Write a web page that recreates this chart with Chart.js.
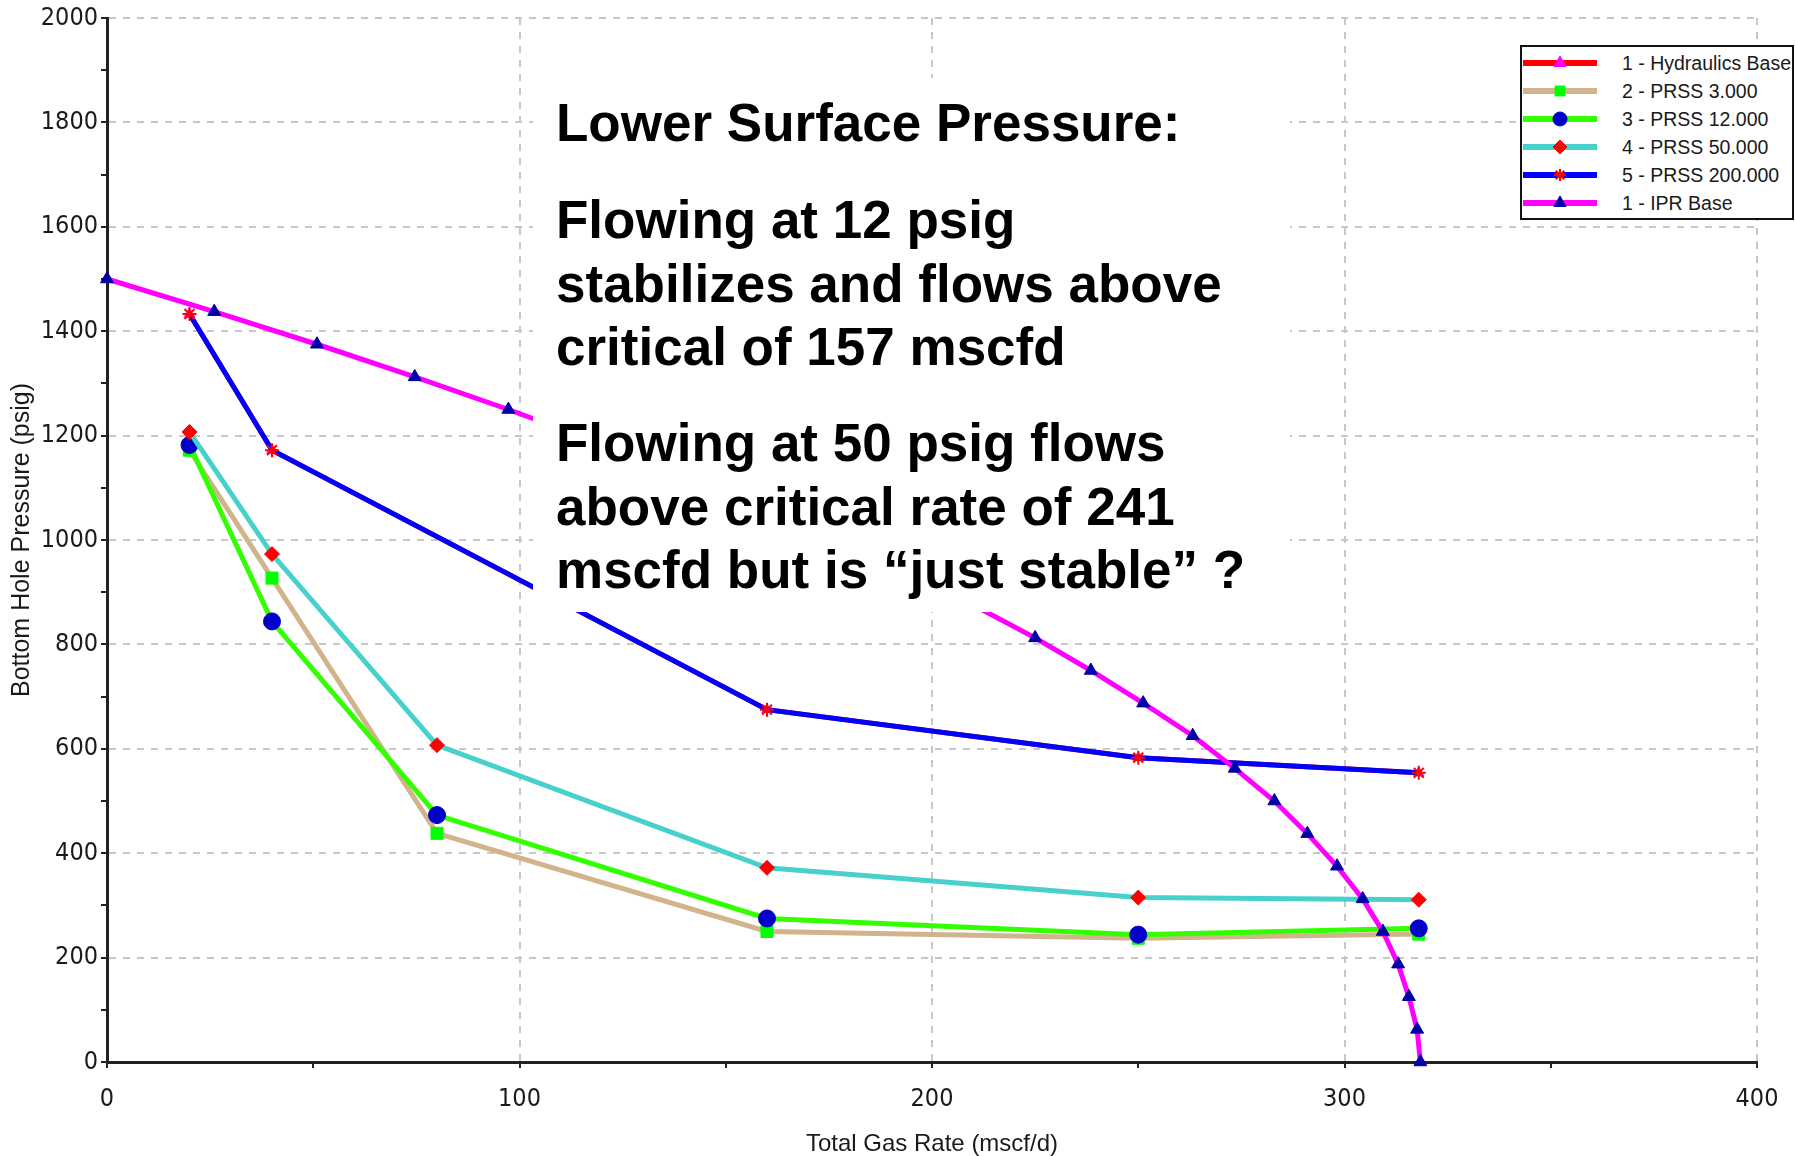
<!DOCTYPE html>
<html>
<head>
<meta charset="utf-8">
<title>Bottom Hole Pressure vs Total Gas Rate</title>
<script src="https://cdn.jsdelivr.net/npm/chart.js@4.4.1/dist/chart.umd.min.js"></script>
<style>
  body { margin: 0; background: #fff; }
  #wrap { position: relative; width: 1795px; height: 1156px; overflow: hidden; }
  #notes {
    position: absolute; left: 533px; top: 78px; width: 757px; height: 534px; background: #fff;
    font-family: "Liberation Sans", Arial, sans-serif; font-weight: bold; font-size: 53px;
    line-height: 63.5px; color: #000;
  }
  #notes p { position: absolute; left: 23px; margin: 0; white-space: nowrap; }
  #legend {
    position: absolute; left: 1520px; top: 45px; width: 270px; height: 171px;
    border: 2px solid #111; background: #fff;
    font-family: "Liberation Sans", Arial, sans-serif; font-size: 19.5px; color: #1a1a1a;
  }
  .row { position: absolute; left: 0; width: 270px; height: 28px; }
  .row canvas { position: absolute; left: 0; top: 0; }
  .row span { position: absolute; left: 100px; top: 0; line-height: 28px; white-space: nowrap; }
</style>
</head>
<body>
<div id="wrap">
  <canvas id="ipr" width="1795" height="1156"></canvas>
  <div id="notes">
    <p style="top:13px">Lower Surface Pressure:</p>
    <p style="top:110px">Flowing at 12 psig<br>stabilizes and flows above<br>critical of 157 mscfd</p>
    <p style="top:333px">Flowing at 50 psig flows<br>above critical rate of 241<br>mscfd but is “just stable” ?</p>
  </div>
  <div id="legend"></div>
</div>
<script>
// Inflow performance curve (rate mscf/d, flowing bottom hole pressure psig)
const iprRate = [0, 26.0, 50.9, 74.6, 97.3, 118.8, 139.3, 158.6, 176.9, 194.0, 210.1, 225.0, 238.5,
                 251.2, 263.2, 273.4, 283.0, 291.0, 298.2, 304.4, 309.3, 313.0, 315.6, 317.6, 318.4];
const iprPwf = [1500, 1437.5, 1375, 1312.5, 1250, 1187.5, 1125, 1062.5, 1000, 937.5, 875, 812.5, 750,
                687.5, 625, 562.5, 500, 437.5, 375, 312.5, 250, 187.5, 125, 62.5, 0];

// Tubing curves at each surface pressure
const rates = [20, 40, 80, 160, 250, 318];
const rates200 = [20, 40, 160, 250, 318];
const bhpHydraulics = [1433, 1172, 675, 583, 554];
const bhpPrss3 = [1172, 927, 438, 250, 237, 245];
const bhpPrss12 = [1182, 844, 473, 275, 244, 256];
const bhpPrss50 = [1207, 973, 607, 372, 315, 311];
const bhpPrss200 = [1433, 1172, 675, 583, 554];

const xTicks = [0, 100, 200, 300, 400];
const yTicks = [0, 200, 400, 600, 800, 1000, 1200, 1400, 1600, 1800, 2000];

const tickFont = '"Liberation Sans Narrow", "DejaVu Sans Condensed", "Liberation Sans", sans-serif';
const titleFont = '"Liberation Sans", Arial, sans-serif';

function pts(xs, ys) {
    return xs.map((x, i) => ({ x: x, y: ys[i] }));
}

function series(label, xs, ys, line, style, radius, fill, stroke, bw, order) {
    return {
        label: label,
        data: pts(xs, ys),
        borderColor: line,
        borderWidth: 5,
        pointStyle: style,
        pointRadius: radius,
        pointBackgroundColor: fill,
        pointBorderColor: stroke,
        pointBorderWidth: bw,
        tension: 0,
        clip: false,
        order: order
    };
}

const datasets = [
    series('1 - Hydraulics Base', rates200, bhpHydraulics, '#ff0000', 'triangle', 6, '#ff00ff', '#ff00ff', 1, 5),
    series('2 - PRSS 3.000', rates, bhpPrss3, '#d2b48c', 'rect', 8.5, '#00ff00', '#00ff00', 1, 4),
    series('3 - PRSS 12.000', rates, bhpPrss12, '#33ff00', 'circle', 8.5, '#0000c8', '#0000c8', 1, 3),
    series('4 - PRSS 50.000', rates, bhpPrss50, '#48d1cc', 'rectRot', 7.5, '#ff0000', '#ff0000', 1, 2),
    series('5 - PRSS 200.000', rates200, bhpPrss200, '#0000ff', 'star', 7, '#ff0000', '#ff0000', 2, 1),
    series('1 - IPR Base', iprRate, iprPwf, '#ff00ff', 'triangle', 7.5, '#0000a8', '#0000a8', 1, 0)
];

const gridDash = [7, 7];

new Chart(document.getElementById('ipr').getContext('2d'), {
    type: 'line',
    data: { datasets: datasets },
    options: {
        responsive: false,
        animation: false,
        layout: { padding: { top: 17, right: 38, left: 0, bottom: 0 } },
        plugins: { legend: { display: false }, tooltip: { enabled: false } },
        scales: {
            x: {
                type: 'linear', min: 0, max: 400,
                afterFit: s => { s.height = 94; },
                ticks: {
                    stepSize: 50, autoSkip: false, maxRotation: 0, padding: 16,
                    color: '#1a1a1a', font: { family: tickFont, size: 25 },
                    callback: v => xTicks.includes(v) ? String(v) : ''
                },
                grid: {
                    color: c => xTicks.includes(c.tick.value) ? '#c8c8c8' : 'rgba(0,0,0,0)',
                    lineWidth: 2, tickColor: '#222', tickLength: 6, tickWidth: 2
                },
                border: { color: '#222', width: 3, dash: gridDash },
                title: {
                    display: true, text: 'Total Gas Rate (mscf/d)', color: '#1a1a1a',
                    font: { family: titleFont, size: 24, lineHeight: 1 }, padding: { top: 0, bottom: 0 }
                }
            },
            y: {
                type: 'linear', min: 0, max: 2000,
                afterFit: s => { s.width = 107; },
                ticks: {
                    stepSize: 100, autoSkip: false, padding: 3,
                    color: '#1a1a1a', font: { family: tickFont, size: 25 },
                    callback: v => yTicks.includes(v) ? String(v) : ''
                },
                grid: {
                    color: c => yTicks.includes(c.tick.value) ? '#c8c8c8' : 'rgba(0,0,0,0)',
                    lineWidth: 2, tickColor: '#222', tickLength: 6, tickWidth: 2
                },
                border: { color: '#222', width: 3, dash: gridDash },
                title: {
                    display: true, text: 'Bottom Hole Pressure (psig)', color: '#1a1a1a',
                    font: { family: titleFont, size: 25 }, padding: { top: 7, bottom: 0 }
                }
            }
        }
    }
});

// Legend box: line sample with marker, then the label
const legend = document.getElementById('legend');
datasets.forEach((ds, i) => {
    const row = document.createElement('div');
    row.className = 'row';
    row.style.top = (2 + i * 28) + 'px';
    const cv = document.createElement('canvas');
    cv.width = 78;
    cv.height = 28;
    const c = cv.getContext('2d');
    c.strokeStyle = ds.borderColor;
    c.lineWidth = 6;
    c.beginPath();
    c.moveTo(1, 14);
    c.lineTo(75, 14);
    c.stroke();
    c.fillStyle = ds.pointBackgroundColor;
    c.strokeStyle = ds.pointBorderColor;
    c.lineWidth = ds.pointBorderWidth;
    Chart.helpers.drawPoint(c, {
        pointStyle: ds.pointStyle,
        radius: ds.pointStyle === 'star' ? 6 : 7,
        borderWidth: ds.pointBorderWidth,
        rotation: 0
    }, 38, 14);
    const txt = document.createElement('span');
    txt.textContent = ds.label;
    row.appendChild(cv);
    row.appendChild(txt);
    legend.appendChild(row);
});
</script>
</body>
</html>
